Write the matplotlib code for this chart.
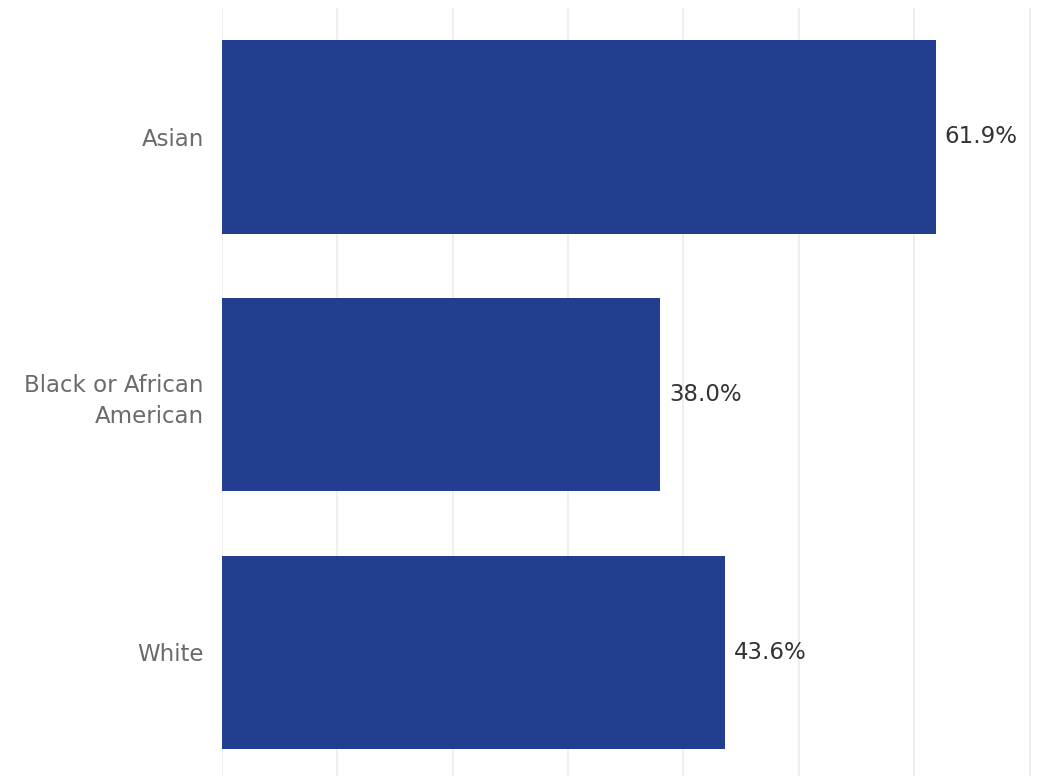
import matplotlib
matplotlib.use("Agg")
import matplotlib.pyplot as plt

categories = ["Asian", "Black or African\nAmerican", "White"]
values = [61.9, 38.0, 43.6]
value_labels = ["61.9%", "38.0%", "43.6%"]
grid_ticks = [0, 10, 20, 30, 40, 50, 60, 70]

W, H = 1048, 776
fig = plt.figure(figsize=(W / 100, H / 100), dpi=100)
ax = fig.add_axes([222 / W, 0.0, (W - 222) / W, (H - 8) / H])

y = list(range(len(categories)))
ax.barh(y, values, height=0.75, color="#233e8e", zorder=2)
ax.set_ylim(2.48, -0.5)
ax.set_xlim(0, 71.6)

ax.set_xticks(grid_ticks)
ax.xaxis.grid(True, color="#ececec", linewidth=1.2, zorder=0)
ax.tick_params(axis="x", length=0, labelbottom=False)
ax.tick_params(axis="y", length=0, pad=13)
ax.set_yticks(y)
ax.set_yticklabels(categories, fontsize=16.5, color="#6b6b6b", linespacing=1.45, ha="right")
for s in ax.spines.values():
    s.set_visible(False)

for yi, v, lab in zip(y, values, value_labels):
    ax.text(v + 0.75, yi, lab, va="center", ha="left", fontsize=16.5, color="#333333")

fig.savefig("out.png", dpi=100)
